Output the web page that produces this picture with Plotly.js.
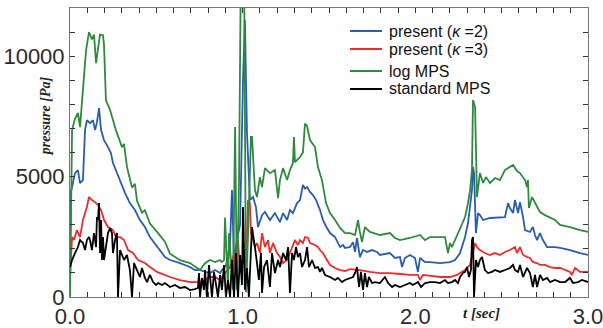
<!DOCTYPE html>
<html>
<head>
<meta charset="utf-8">
<script src="https://cdn.plot.ly/plotly-3.0.1.min.js"></script>
<style>html,body{margin:0;padding:0;background:#fff;}#chart{width:603px;height:328px;}</style>
</head>
<body>
<div id="chart"></div>
<script>
// ---- data (t in sec, pressure in Pa) ----
const seriesNames = ['present (<i>κ</i> =2)', 'present (<i>κ</i> =3)', 'log MPS', 'standard MPS'];
const seriesColors = ['#2a5db0', '#ee2b2b', '#2f8a3f', '#000000'];
const xTickLabels = ['0.0', '1.0', '2.0', '3.0'];
const yTickLabels = ['0', '5000', '10000'];

const tBlue = [0.000,0.006,0.012,0.029,0.046,0.058,0.075,0.087,0.098,0.116,0.133,0.145,0.156,0.168,0.180,0.197,0.220,0.237,0.249,0.272,0.290,0.319,0.347,0.376,0.405,0.434,0.463,0.504,0.521,0.550,0.579,0.637,0.695,0.724,0.753,0.782,0.811,0.840,0.869,0.880,0.903,0.927,0.938,0.950,0.967,0.985,1.002,1.013,1.025,1.042,1.060,1.077,1.089,1.112,1.129,1.158,1.187,1.216,1.234,1.257,1.274,1.291,1.315,1.332,1.349,1.361,1.373,1.390,1.407,1.425,1.448,1.465,1.488,1.506,1.535,1.564,1.581,1.593,1.622,1.639,1.651,1.662,1.679,1.697,1.720,1.749,1.778,1.795,1.853,1.882,1.911,1.923,1.940,1.969,1.998,2.015,2.027,2.056,2.085,2.143,2.201,2.230,2.259,2.288,2.305,2.317,2.328,2.334,2.340,2.351,2.363,2.374,2.392,2.432,2.490,2.519,2.537,2.548,2.566,2.577,2.595,2.606,2.624,2.635,2.664,2.681,2.693,2.705,2.722,2.739,2.763,2.809,2.838,2.896,2.954,3.000];
const pBlue = [1800,4400,4565,5145,5270,4730,4855,6930,7345,7220,7345,6930,7250,7840,6930,6515,6225,5975,5560,5145,4855,4315,3900,3610,3195,2905,2490,2075,1950,1660,1535,1410,1245,1120,1120,1040,995,1120,995,1120,1300,2200,4440,1500,2400,3000,9000,11500,6810,4025,4150,3735,2905,3400,3530,3195,3485,3110,3485,3195,3610,3485,3900,4025,4650,4500,4565,4360,4235,4025,3610,3195,2865,2655,2490,2075,2160,2035,2075,2280,1870,2450,1660,1950,1870,1950,1870,1745,1825,1620,1660,1245,1620,1745,1620,1040,1620,1450,1450,1410,1450,1535,1825,2490,3070,3735,4440,5400,5145,2655,3485,3400,3195,3280,3320,3320,3900,3695,3485,4025,3485,3940,3320,2780,2700,2905,2575,2365,2655,2365,2075,2075,2035,1950,1825,1745];

const tRed = [0.000,0.006,0.012,0.023,0.040,0.058,0.075,0.098,0.110,0.127,0.145,0.162,0.180,0.197,0.220,0.249,0.266,0.290,0.313,0.336,0.365,0.394,0.434,0.463,0.504,0.579,0.637,0.695,0.753,0.782,0.811,0.840,0.869,0.898,0.927,0.950,0.961,0.973,0.985,1.002,1.019,1.031,1.042,1.048,1.071,1.083,1.100,1.112,1.129,1.147,1.158,1.176,1.199,1.216,1.234,1.257,1.274,1.286,1.303,1.320,1.332,1.349,1.361,1.379,1.390,1.419,1.436,1.448,1.465,1.488,1.506,1.535,1.564,1.593,1.622,1.679,1.737,1.795,1.853,1.911,1.969,2.015,2.027,2.044,2.085,2.143,2.201,2.241,2.259,2.288,2.317,2.334,2.346,2.357,2.374,2.403,2.432,2.461,2.490,2.519,2.548,2.577,2.589,2.606,2.624,2.647,2.664,2.681,2.705,2.722,2.751,2.780,2.809,2.838,2.867,2.896,2.907,2.925,2.954,3.000];
const pRed = [800,1700,2490,2365,2780,2490,3195,3735,4150,4025,3940,3820,3610,3195,2905,2780,2490,2490,2365,1950,1825,1535,1410,1245,1040,830,705,620,620,705,830,830,705,995,1245,1800,1000,2365,1000,1500,1200,4025,3900,2655,2075,2240,1825,2655,2075,2365,1825,2240,1825,1660,1410,1535,1825,2075,2365,2160,2365,2240,2490,2450,2240,2160,2075,1950,1825,1535,1330,1205,1120,1080,1160,1120,1040,995,995,955,915,915,705,915,870,830,830,915,995,1120,1330,1825,2240,2075,1950,1825,1745,1825,1745,1870,1950,2075,1825,2075,1745,1660,1620,1450,1410,1330,1330,1245,1205,1205,1120,1040,915,1205,1040,1040];

const tGreen = [0.000,0.006,0.012,0.029,0.046,0.058,0.075,0.093,0.110,0.127,0.139,0.151,0.162,0.174,0.191,0.197,0.208,0.232,0.266,0.301,0.313,0.330,0.359,0.376,0.388,0.417,0.434,0.463,0.510,0.550,0.579,0.637,0.695,0.724,0.753,0.782,0.811,0.840,0.869,0.880,0.892,0.898,0.909,0.915,0.921,0.932,0.944,0.956,0.967,0.979,0.990,1.008,1.019,1.031,1.048,1.054,1.071,1.083,1.100,1.112,1.129,1.158,1.187,1.205,1.216,1.234,1.257,1.274,1.291,1.297,1.303,1.332,1.349,1.361,1.373,1.390,1.419,1.436,1.459,1.483,1.506,1.535,1.564,1.593,1.622,1.651,1.668,1.679,1.691,1.708,1.737,1.795,1.853,1.882,1.911,1.969,2.027,2.056,2.085,2.143,2.172,2.189,2.201,2.212,2.230,2.259,2.288,2.305,2.317,2.328,2.334,2.346,2.357,2.374,2.392,2.409,2.432,2.461,2.490,2.519,2.548,2.566,2.589,2.606,2.635,2.647,2.652,2.658,2.676,2.693,2.722,2.751,2.780,2.809,2.838,2.896,2.954,3.000];
const pGreen = [0,4000,6930,7400,7640,7055,8600,10250,11000,10700,10900,9710,10300,10900,10870,10460,8175,7760,6930,6225,6350,5400,4550,4700,4000,3500,3600,3050,2650,2300,1800,1530,1410,1250,1120,1400,1535,1450,1535,1450,1535,3300,1535,290,2650,1500,300,7055,290,4900,14000,14000,200,2500,6650,6650,4440,4150,4980,4565,5350,5140,5270,4100,4855,5350,4855,5270,5560,6640,5600,5810,6000,7200,7100,6515,6225,5395,4855,3900,3485,3195,2865,2655,2655,2575,3195,2700,2280,2905,2700,2575,2655,2450,2365,2450,2575,2365,2490,2490,2490,1825,2240,2075,2365,2780,3320,3900,4440,5270,8175,7885,4150,5145,4730,4980,4730,4940,4855,5270,5395,5480,5230,5145,4855,4565,4855,3695,4150,3900,3530,3400,3280,3195,2990,2905,2780,2700];

const tBlack = [0.000,0.012,0.029,0.046,0.058,0.075,0.087,0.098,0.110,0.116,0.127,0.139,0.151,0.156,0.162,0.168,0.174,0.180,0.185,0.191,0.197,0.208,0.220,0.232,0.243,0.249,0.261,0.272,0.278,0.290,0.313,0.330,0.347,0.359,0.371,0.388,0.405,0.417,0.434,0.446,0.463,0.481,0.498,0.510,0.533,0.550,0.579,0.608,0.637,0.666,0.695,0.724,0.741,0.747,0.753,0.764,0.776,0.782,0.793,0.805,0.811,0.822,0.834,0.846,0.857,0.869,0.880,0.892,0.903,0.915,0.927,0.938,0.950,0.961,0.973,0.985,0.996,1.002,1.013,1.025,1.036,1.054,1.060,1.071,1.083,1.094,1.106,1.112,1.124,1.141,1.158,1.170,1.187,1.205,1.216,1.234,1.251,1.263,1.274,1.286,1.297,1.309,1.320,1.332,1.344,1.361,1.373,1.384,1.402,1.419,1.436,1.448,1.459,1.477,1.506,1.535,1.552,1.575,1.593,1.622,1.639,1.651,1.662,1.674,1.685,1.697,1.708,1.720,1.731,1.749,1.766,1.795,1.824,1.842,1.865,1.882,1.911,1.940,1.969,1.986,2.015,2.033,2.056,2.085,2.114,2.143,2.172,2.189,2.212,2.230,2.247,2.259,2.276,2.288,2.299,2.311,2.322,2.328,2.334,2.340,2.351,2.363,2.374,2.386,2.403,2.421,2.444,2.461,2.490,2.519,2.548,2.566,2.577,2.595,2.606,2.624,2.647,2.664,2.681,2.693,2.705,2.722,2.739,2.763,2.780,2.809,2.838,2.867,2.896,2.913,2.942,2.965,3.000];
const pBlack = [1245,1535,1825,2075,2365,2240,1950,2365,2490,2365,1950,2655,2075,3320,3195,3900,1825,3195,1535,2490,1535,2075,2655,2865,2655,1825,2365,2655,0,1950,1535,1745,1120,0,1410,1120,830,1205,790,620,915,620,500,580,500,580,415,500,375,415,290,330,375,995,0,790,290,1120,0,1330,705,0,1040,500,0,915,290,1330,0,705,0,1535,0,1825,0,1745,500,3735,300,1200,0,2905,2655,2075,1410,705,1825,165,1245,1535,415,1825,995,1535,1245,1825,1535,2075,165,1825,1535,2075,1660,1825,1245,1535,2075,1245,1535,1205,1245,1040,1205,915,830,705,790,620,705,790,830,995,1245,415,1040,290,995,415,830,580,620,580,830,580,415,500,415,500,580,500,620,415,580,620,620,580,705,580,620,705,580,830,995,1040,1245,830,1120,2365,2490,0,1535,1245,1535,1660,1120,995,1040,1120,1040,1120,1205,1330,1120,1040,1330,830,1205,995,415,915,415,915,705,790,620,705,620,620,790,580,620,705,620];

// ---- build chart ----
const tArr = [tBlue, tRed, tGreen, tBlack];
const pArr = [pBlue, pRed, pGreen, pBlack];
const traces = tArr.map((t, i) => ({
  x: t, y: pArr[i], type: 'scatter', mode: 'lines',
  name: seriesNames[i], line: {color: seriesColors[i], width: 1.8}, showlegend: false
}));

const fontMain = 'Liberation Sans, Arial, sans-serif';
const tickColor = '#333';
function axisBase() {
  return {
    showgrid: false, zeroline: false, showline: true, linecolor: '#777', linewidth: 1,
    mirror: 'allticks', ticks: 'inside', ticklen: 5, tickcolor: tickColor, tickwidth: 1,
    ticklabeloverflow: 'allow',
    tickfont: {family: fontMain, size: 22, color: '#2b2b2b'}
  };
}
const xaxis = Object.assign(axisBase(), {
  range: [0, 3], tickmode: 'array', tickvals: [0, 1, 2, 3], ticktext: xTickLabels,
  minor: {dtick: 0.1, tick0: 0, ticks: 'inside', ticklen: 5, tickcolor: tickColor, showgrid: false}
});
const yaxis = Object.assign(axisBase(), {
  range: [0, 12000], tickmode: 'array', tickvals: [0, 5000, 10000], ticktext: yTickLabels,
  minor: {dtick: 1000, tick0: 0, ticks: 'inside', ticklen: 5, tickcolor: tickColor, showgrid: false}
});

// manual legend (layout only)
const legY = [0.920, 0.858, 0.782, 0.720];
const shapes = [];
const annotations = [];
seriesNames.forEach((n, i) => {
  shapes.push({type: 'line', xref: 'paper', yref: 'paper', x0: 0.5405, x1: 0.6023, y0: legY[i], y1: legY[i],
    line: {color: seriesColors[i], width: 2}});
  annotations.push({xref: 'paper', yref: 'paper', x: 0.6139, y: legY[i], xanchor: 'left', yanchor: 'middle',
    text: n, showarrow: false, borderpad: 0, font: {family: fontMain, size: 16, color: '#111'}});
});
annotations.push({xref: 'paper', yref: 'paper', x: -0.048, y: 0.626, xanchor: 'center', yanchor: 'middle', textangle: -90, showarrow: false,
  text: '<b><i>pressure [Pa]</i></b>', font: {family: 'Liberation Serif, Times New Roman, serif', size: 14, color: '#222'}});
annotations.push({xref: 'paper', yref: 'paper', x: 0.795, y: -0.055, xanchor: 'center', yanchor: 'middle', showarrow: false,
  text: '<b><i>t [sec]</i></b>', font: {family: 'Liberation Serif, Times New Roman, serif', size: 15, color: '#222'}});

const layout = {
  width: 603, height: 328,
  margin: {l: 70, r: 15, t: 8, b: 31},
  paper_bgcolor: '#fff', plot_bgcolor: '#fff',
  xaxis: xaxis, yaxis: yaxis,
  shapes: shapes, annotations: annotations, showlegend: false
};
Plotly.newPlot('chart', traces, layout, {displayModeBar: false, staticPlot: true});
</script>
</body>
</html>
